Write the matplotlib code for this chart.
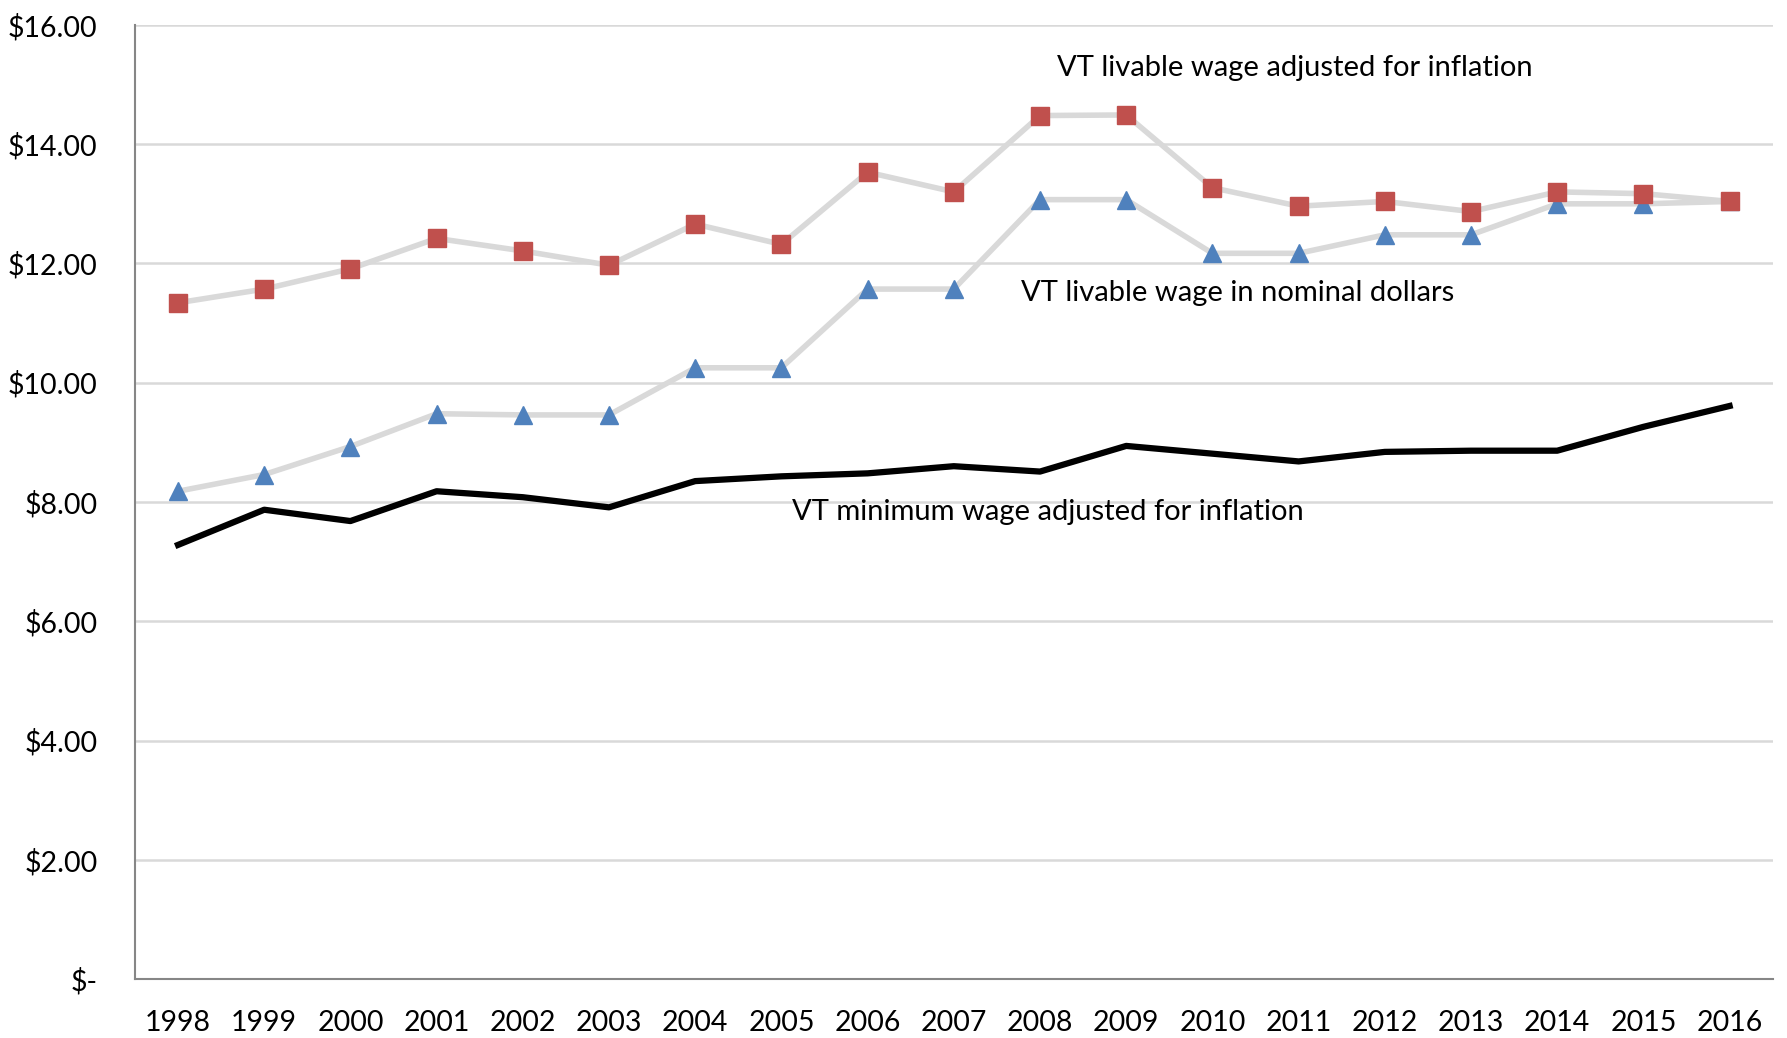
import matplotlib
matplotlib.use("Agg")
import matplotlib.pyplot as plt
from matplotlib.ticker import FuncFormatter

years = [str(y) for y in range(1998, 2017)]
livable_real = [11.34, 11.57, 11.91, 12.42, 12.21, 11.97, 12.66, 12.32, 13.53, 13.20,
                14.48, 14.49, 13.27, 12.96, 13.04, 12.87, 13.20, 13.17, 13.04]
livable_nominal = [8.18, 8.46, 8.93, 9.48, 9.46, 9.46, 10.25, 10.25, 11.57, 11.57,
                   13.07, 13.07, 12.17, 12.17, 12.48, 12.48, 13.00, 13.00, 13.04]
minimum_real = [7.28, 7.87, 7.68, 8.18, 8.08, 7.91, 8.35, 8.43, 8.48, 8.60,
                8.51, 8.94, 8.81, 8.68, 8.84, 8.86, 8.86, 9.26, 9.61]
yticks = [0, 2, 4, 6, 8, 10, 12, 14, 16]

plt.rcParams['font.family'] = ['Lato', 'DejaVu Sans']

fig = plt.figure(figsize=(17.87, 10.38), dpi=100)
ax = fig.add_axes([0.0755, 0.0568, 0.9165, 0.9192])
x = list(range(len(years)))

grid_c = '#d9d9d9'
ax.plot(x, livable_real, color=grid_c, lw=4.0, marker='s', markersize=12.5,
        markerfacecolor='#c0504d', markeredgecolor='#c0504d', zorder=3)
ax.plot(x, livable_nominal, color=grid_c, lw=4.0, marker='^', markersize=13.5,
        markerfacecolor='#4f81bd', markeredgecolor='#4f81bd', zorder=2)
ax.plot(x, minimum_real, color='black', lw=4.5, zorder=4)

ax.set_xlim(-0.5, 18.5)
ax.set_ylim(0, 16)
ax.set_yticks(yticks)
ax.yaxis.set_major_formatter(FuncFormatter(lambda v, p: '$-' if v == 0 else f'${v:.2f}'))
ax.set_xticks(x)
ax.set_xticklabels(years)
ax.tick_params(axis='both', length=0, labelsize=20.5, colors='black')
ax.tick_params(axis='y', pad=27)
ax.tick_params(axis='x', pad=22)

ax.grid(axis='y', color=grid_c, lw=1.8, zorder=0)
ax.set_axisbelow(True)
for s in ['top', 'right']:
    ax.spines[s].set_visible(False)
for s in ['left', 'bottom']:
    ax.spines[s].set_color('#868686')
    ax.spines[s].set_linewidth(1.5)

fs = 21
ax.text(10.2, 15.28, 'VT livable wage adjusted for inflation', fontsize=fs,
        ha='left', va='center')
ax.text(9.78, 11.5, 'VT livable wage in nominal dollars', fontsize=fs,
        ha='left', va='center')
ax.text(7.12, 7.84, 'VT minimum wage adjusted for inflation', fontsize=fs,
        ha='left', va='center')

fig.savefig('out.png', dpi=100)
